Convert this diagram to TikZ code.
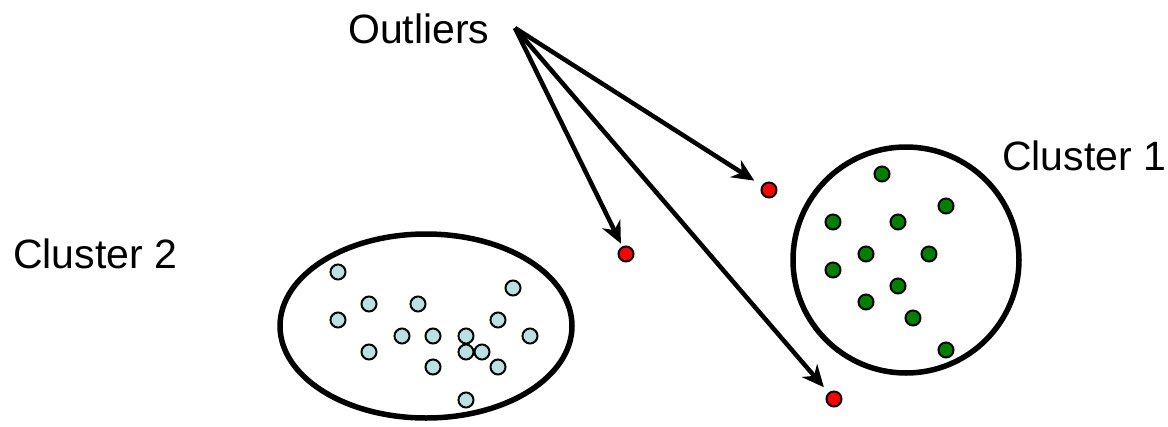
\documentclass[tikz,border=0pt]{standalone}
\usepackage{fontspec}
\setmainfont{Liberation Sans}
\usetikzlibrary{arrows.meta,shapes.geometric}
\definecolor{dotblue}{RGB}{186,224,226}
\definecolor{dotgreen}{RGB}{0,128,0}
\definecolor{dotred}{RGB}{255,0,0}
\tikzset{
  lbl/.style={anchor=base west, inner sep=0pt, font=\fontsize{41}{48}\selectfont},
  blob/.style={draw=black, line width=5.5pt},
  pt/.style={circle, draw=black, line width=2pt, minimum size=15pt, inner sep=0pt},
  bluept/.style={pt, fill=dotblue},
  greenpt/.style={pt, fill=dotgreen},
  redpt/.style={pt, fill=dotred},
  arr/.style={line width=4.5pt, -{Stealth[length=22pt, width=20pt, inset=7pt]}}
}
\begin{document}
\begin{tikzpicture}[x=1pt, y=-1pt]
\useasboundingbox (0,0) rectangle (1168,426);
% labels
\node[lbl] (outl) at (348,43) {Outliers};
\node[lbl] (c1lbl) at (1002,170) {Cluster 1};
\node[lbl] (c2lbl) at (13,268) {Cluster 2};
% clusters
\node[blob, ellipse, minimum width=292pt, minimum height=184pt, inner sep=0pt] (c2) at (426,326) {};
\node[blob, circle, minimum size=226pt, inner sep=0pt] (c1) at (906,260) {};
% cluster 2 points
\foreach \i/\x/\y in {1/338/272, 2/369/304, 3/418/304, 4/338/320, 5/513/288, 6/498/320,
  7/402/336, 8/433/336, 9/466/336, 10/530/336, 11/369/352, 12/466/352, 13/482/352,
  14/433/367, 15/498/367, 16/466/400}
  \node[bluept] (b\i) at (\x,\y) {};
% cluster 1 points
\foreach \i/\x/\y in {1/882/174, 2/946/206, 3/833/222, 4/898/222, 5/866/254, 6/929/254,
  7/833/270, 8/898/286, 9/866/302, 10/913/318, 11/946/350}
  \node[greenpt] (g\i) at (\x,\y) {};
% outliers
\node[redpt] (r1) at (769,190) {};
\node[redpt] (r2) at (626,254) {};
\node[redpt] (r3) at (834,399) {};
% arrows
\coordinate (o) at (515,28);
\draw[arr, shorten >=9pt] (o) -- (r1);
\draw[arr, shorten >=3pt] (o) -- (r2);
\draw[arr, shorten >=7pt] (o) -- (r3);
\end{tikzpicture}
\end{document}
